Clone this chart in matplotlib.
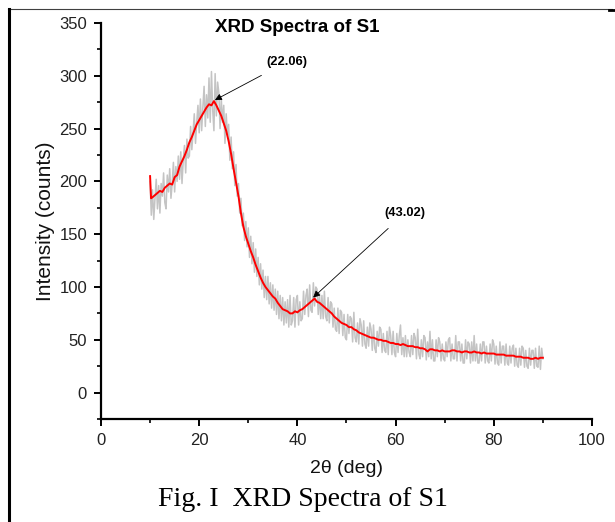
import matplotlib
matplotlib.use("Agg")
import matplotlib.pyplot as plt
import numpy as np
from matplotlib.lines import Line2D

# raw counts, 0.25 deg steps from 10.00 to 90.00
raw_counts = [
    200, 168, 192, 164, 184, 202, 174, 196, 170, 198, 186, 208,
    180, 174, 206, 190, 212, 184, 198, 218, 190, 214, 200, 224,
    202, 228, 198, 220, 234, 208, 240, 222, 224, 252, 230, 246,
    264, 236, 256, 272, 246, 278, 248, 270, 290, 252, 282, 260,
    298, 256, 304, 268, 248, 302, 262, 294, 284, 250, 278, 256,
    272, 236, 264, 244, 254, 220, 242, 212, 228, 196, 216, 186,
    198, 170, 184, 158, 170, 144, 162, 138, 156, 128, 148, 122,
    142, 114, 136, 110, 128, 102, 122, 98, 116, 90, 110, 88,
    110, 84, 104, 80, 102, 78, 98, 74, 96, 70, 92, 68,
    90, 64, 86, 66, 88, 62, 92, 64, 68, 90, 62, 88,
    92, 64, 86, 68, 70, 96, 74, 92, 98, 72, 102, 78,
    76, 104, 82, 100, 98, 74, 94, 70, 92, 70, 96, 72,
    68, 90, 66, 86, 84, 62, 80, 60, 58, 80, 56, 78,
    76, 54, 74, 52, 50, 74, 56, 72, 70, 48, 76, 52,
    48, 66, 46, 70, 64, 44, 68, 46, 42, 62, 44, 66,
    60, 40, 64, 42, 38, 58, 44, 62, 60, 38, 56, 40,
    38, 58, 36, 62, 54, 36, 58, 38, 34, 56, 38, 54,
    64, 36, 52, 34, 54, 34, 50, 38, 34, 54, 36, 56,
    52, 32, 60, 36, 32, 50, 34, 54, 52, 31, 48, 34,
    58, 32, 50, 30, 30, 50, 34, 52, 48, 30, 46, 32,
    30, 48, 34, 50, 52, 30, 46, 32, 32, 54, 30, 48,
    48, 30, 46, 28, 28, 50, 32, 48, 46, 28, 48, 30,
    54, 30, 46, 28, 28, 46, 30, 48, 48, 28, 44, 30,
    28, 46, 30, 50, 46, 27, 44, 28, 26, 48, 28, 44,
    44, 26, 46, 28, 26, 44, 28, 42, 45, 25, 42, 26,
    24, 42, 26, 44, 42, 24, 40, 25, 23, 42, 26, 40,
    40, 23, 42, 25, 24, 44, 22, 42, 32,
]

# smoothed curve: first two points at 10.0 / 10.2, then 0.5 deg steps from 10.5
smooth_start = [205, 184]
smooth_counts = [
    185, 187, 189, 191, 190, 194, 196, 198, 197, 204,
    206, 214, 219, 224, 230, 237, 242, 248, 254, 258,
    262, 266, 270, 273, 272, 276, 272, 267, 262, 255,
    248, 238, 226, 212, 199, 186, 170, 157, 148, 141,
    134, 128, 121, 115, 109, 104, 100, 97, 94, 91,
    89, 85, 82, 79, 78, 77, 75, 75, 77, 76,
    78, 79, 81, 83, 85, 87, 89, 86, 85, 83,
    81, 79, 77, 75, 72, 70, 68, 66, 65, 64,
    62, 62, 60, 59, 57, 56, 55, 54, 53, 52,
    52, 51, 50, 50, 49, 49, 48, 47, 47, 46,
    46, 45, 46, 45, 44, 44, 44, 43, 43, 42,
    42, 41, 39, 41, 41, 40, 40, 39, 40, 39,
    39, 39, 40, 40, 39, 39, 38, 39, 39, 38,
    38, 39, 38, 38, 37, 38, 37, 37, 37, 37,
    36, 36, 36, 36, 35, 35, 35, 35, 34, 34,
    34, 33, 33, 33, 32, 32, 33, 32, 33, 33,
]

peak_labels = ["(22.06)", "(43.02)"]
peak_tips = [(23.2, 277), (43.2, 90)]

plt.rcParams["font.family"] = ["Liberation Sans", "DejaVu Sans"]

fig = plt.figure(figsize=(6.15, 5.22), dpi=100)
ax = fig.add_axes([0.1642, 0.1973, 0.7984, 0.7587])

raw_x = 10.0 + 0.25 * np.arange(len(raw_counts))
smooth_x = np.concatenate([[10.0, 10.2], 10.5 + 0.5 * np.arange(len(smooth_counts))])
smooth_y = np.concatenate([smooth_start, smooth_counts])

ax.plot(raw_x, raw_counts, color="#c4c4c4", lw=1.1)
ax.plot(smooth_x, smooth_y, color="#ff0000", lw=1.4)

ax.set_xlim(0, 100)
ax.set_ylim(-25, 350)
ax.set_xticks(np.arange(0, 101, 20))
ax.set_xticks(np.arange(10, 100, 20), minor=True)
ax.set_yticks(np.arange(0, 351, 50))
ax.set_yticks(np.arange(-25, 350, 50), minor=True)

for side in ("top", "right"):
    ax.spines[side].set_visible(False)
for side in ("left", "bottom"):
    ax.spines[side].set_linewidth(1.6)
ax.tick_params(which="major", direction="out", length=5, width=1.4,
               labelsize=12, pad=5, labelcolor="#222222")
ax.tick_params(which="minor", direction="out", length=3, width=1.2)

ax.set_xlabel("2θ (deg)", fontsize=14, labelpad=9, color="#111111")
ax.set_ylabel("Intensity (counts)", fontsize=15, labelpad=3, color="#111111")

fig.text(297 / 615, 1 - 28 / 522, "XRD Spectra of S1", ha="center", va="center",
         fontsize=13.5, fontweight="bold")

text_pos = [(37.8, 313), (61.9, 170)]
for label, tip, pos in zip(peak_labels, peak_tips, text_pos):
    ax.annotate(label, xy=tip, xytext=pos, ha="center", va="center",
                fontsize=9.3, fontweight="bold",
                arrowprops=dict(arrowstyle="-|>", color="black", lw=0.6,
                                mutation_scale=10, shrinkA=7, shrinkB=0))

fig.text(303 / 615, 1 - 500 / 522, "Fig. I  XRD Spectra of S1", ha="center", va="center",
         fontsize=20, family=["Liberation Serif", "DejaVu Serif"])

# page borders around the figure cell
fig.add_artist(Line2D([8 / 615, 612 / 615], [1 - 9 / 522, 1 - 9 / 522], color="#404040", lw=0.8))
fig.add_artist(Line2D([9 / 615, 9 / 615], [0, 1 - 9 / 522], color="black", lw=2.2))
fig.add_artist(Line2D([609 / 615, 614 / 615], [1 - 10 / 522, 1 - 10 / 522], color="black", lw=2.0))

fig.savefig("out.png", dpi=100)
